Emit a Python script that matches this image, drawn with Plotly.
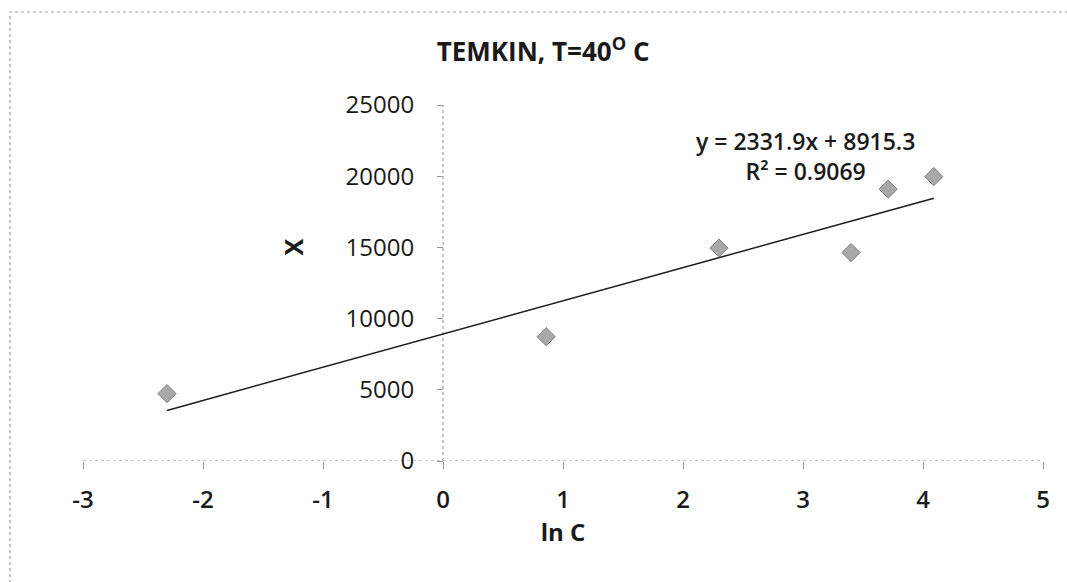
import numpy as np
import plotly.graph_objects as go

# Temkin isotherm data at 40 °C
ln_c = [-2.30, 0.86, 2.30, 3.40, 3.71, 4.09]
x_vals = [4730, 8730, 14950, 14640, 19090, 19970]

# Linear trendline coefficients (as printed on the chart)
slope = 2331.9
intercept = 8915.3
r_squared = 0.9069

x_ticks = [-3, -2, -1, 0, 1, 2, 3, 4, 5]
y_ticks = [0, 5000, 10000, 15000, 20000, 25000]

FONT = "Open Sans"
TXT = "#1a1a1a"

W, H = 1067, 582
ML, MR, MT, MB = 83, 24, 105, 121
plot_w = W - ML - MR
plot_h = H - MT - MB

fig = go.Figure()

# trendline over the span of the data
line_x = np.array([min(ln_c), max(ln_c)])
line_y = slope * line_x + intercept
fig.add_trace(go.Scatter(
    x=line_x, y=line_y, mode="lines",
    line=dict(color="#1a1a1a", width=1.5),
    hoverinfo="skip", showlegend=False,
))

fig.add_trace(go.Scatter(
    x=ln_c, y=x_vals, mode="markers",
    marker=dict(symbol="diamond", size=14, color="#a8a8a8",
                line=dict(color="#7f7f7f", width=1)),
    showlegend=False,
))

# dotted axis lines crossing at the origin
fig.add_shape(type="line", xref="x domain", yref="y", x0=0, x1=1, y0=0, y1=0,
              line=dict(color="#8c8c8c", width=1, dash="dot"), layer="below")
fig.add_shape(type="line", xref="x", yref="y domain", x0=0, x1=0, y0=0, y1=1,
              line=dict(color="#8c8c8c", width=1, dash="dot"), layer="below")

# dotted chart border
fig.add_shape(type="rect", xref="paper", yref="paper",
              x0=(10 - ML) / plot_w, x1=(W + 20 - ML) / plot_w,
              y0=-(MB + 20) / plot_h, y1=(H - MB - 12) / plot_h,
              line=dict(color="#a0a0a0", width=1.2, dash="dot"), layer="below")

# equation and R² labels
fig.add_annotation(
    x=3.02, y=21400, xref="x", yref="y",
    text=f"y = {slope}x + {intercept}<br>R² = {r_squared}",
    showarrow=False, align="center",
    font=dict(family=FONT, size=23, color=TXT, weight=600),
)

# y-axis title
fig.add_annotation(
    x=-1.25, y=15000, xref="x", yref="y", text="X", textangle=-90,
    showarrow=False, font=dict(family=FONT, size=25, color=TXT, weight=700),
)

fig.update_layout(
    width=W, height=H,
    margin=dict(l=ML, r=MR, t=MT, b=MB),
    paper_bgcolor="white", plot_bgcolor="white",
    title=dict(
        text="TEMKIN, T=40<sup>O</sup> C",
        x=0.509, xanchor="center", y=1 - 52 / H, yanchor="middle",
        font=dict(family=FONT, size=26, color=TXT, weight=700),
    ),
    xaxis=dict(
        range=[-3, 5], tickvals=x_ticks, ticktext=[str(v) for v in x_ticks],
        showgrid=False, zeroline=False, showline=False,
        ticks="outside", ticklen=7, tickcolor="#999999", tickwidth=1,
        ticklabelstandoff=10,
        tickfont=dict(family=FONT, size=24, color=TXT, weight=600),
        title=dict(text="ln C", standoff=0,
                   font=dict(family=FONT, size=24, color=TXT, weight=700)),
    ),
    yaxis=dict(
        range=[0, 25000], tickvals=y_ticks, ticktext=[str(v) for v in y_ticks],
        anchor="free", position=3 / 8,
        showgrid=False, zeroline=False, showline=False,
        ticks="outside", ticklen=6, tickcolor="#999999", tickwidth=1,
        ticklabelstandoff=18,
        tickfont=dict(family=FONT, size=24, color=TXT),
    ),
)

fig.write_html("out.html")
